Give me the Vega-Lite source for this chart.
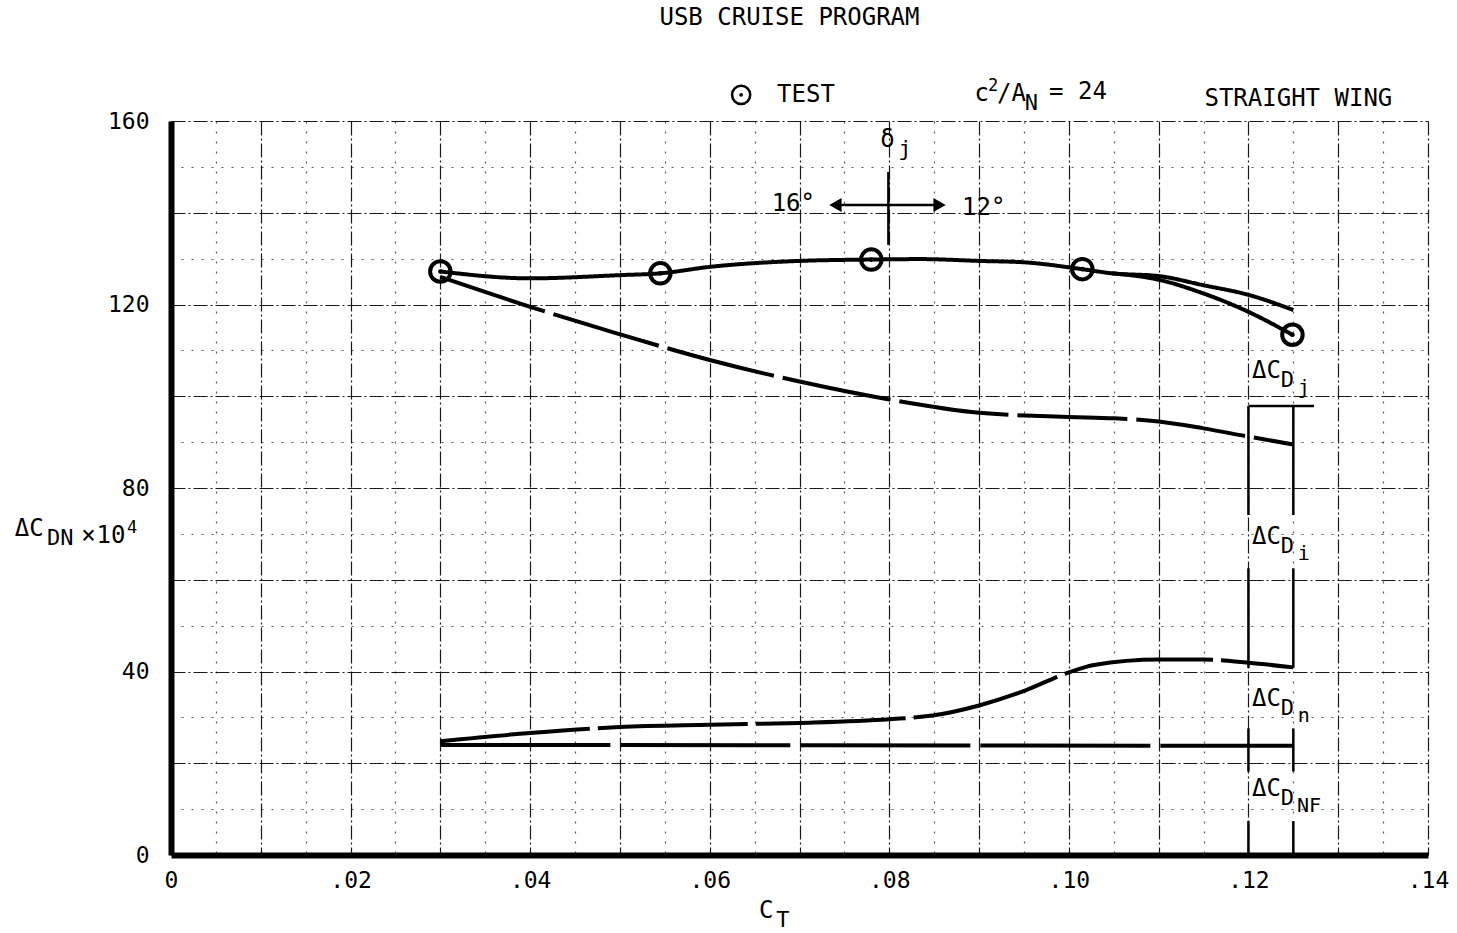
{
  "$schema": "https://vega.github.io/schema/vega-lite/v6.json",
  "width": 1257,
  "height": 734,
  "autosize": {"type": "none"},
  "padding": {"left": 171, "top": 121, "right": 29, "bottom": 78},
  "background": "white",
  "config": {"view": {"stroke": null}},
  "datasets": {
    "curves": [
      {"series": "total_a", "x": 0.030, "y": 127.2},
      {"series": "total_a", "x": 0.040, "y": 125.7},
      {"series": "total_a", "x": 0.050, "y": 126.4},
      {"series": "total_a", "x": 0.0545, "y": 126.8},
      {"series": "total_a", "x": 0.060, "y": 128.2},
      {"series": "total_a", "x": 0.070, "y": 129.5},
      {"series": "total_a", "x": 0.078, "y": 129.8},
      {"series": "total_a", "x": 0.0835, "y": 129.9},
      {"series": "total_a", "x": 0.090, "y": 129.5},
      {"series": "total_a", "x": 0.095, "y": 129.2},
      {"series": "total_a", "x": 0.1015, "y": 127.7},
      {"series": "total_a", "x": 0.1048, "y": 126.8},
      {"series": "total_a", "x": 0.110, "y": 126.2},
      {"series": "total_a", "x": 0.115, "y": 124.2},
      {"series": "total_a", "x": 0.120, "y": 122.1},
      {"series": "total_a", "x": 0.125, "y": 118.8},
      {"series": "total_b", "x": 0.1048, "y": 126.8},
      {"series": "total_b", "x": 0.110, "y": 125.4},
      {"series": "total_b", "x": 0.115, "y": 122.4},
      {"series": "total_b", "x": 0.120, "y": 118.4},
      {"series": "total_b", "x": 0.1249, "y": 113.4},
      {"series": "di", "x": 0.030, "y": 126.0},
      {"series": "di", "x": 0.040, "y": 119.5},
      {"series": "di", "x": 0.050, "y": 113.5},
      {"series": "di", "x": 0.060, "y": 107.9},
      {"series": "di", "x": 0.070, "y": 103.2},
      {"series": "di", "x": 0.080, "y": 99.3},
      {"series": "di", "x": 0.090, "y": 96.4},
      {"series": "di", "x": 0.100, "y": 95.5},
      {"series": "di", "x": 0.105, "y": 95.2},
      {"series": "di", "x": 0.110, "y": 94.5},
      {"series": "di", "x": 0.115, "y": 93.0},
      {"series": "di", "x": 0.120, "y": 91.2},
      {"series": "di", "x": 0.125, "y": 89.5},
      {"series": "dn", "x": 0.030, "y": 24.8},
      {"series": "dn", "x": 0.040, "y": 26.6},
      {"series": "dn", "x": 0.050, "y": 27.9},
      {"series": "dn", "x": 0.060, "y": 28.4},
      {"series": "dn", "x": 0.070, "y": 28.8},
      {"series": "dn", "x": 0.080, "y": 29.6},
      {"series": "dn", "x": 0.0848, "y": 30.4},
      {"series": "dn", "x": 0.090, "y": 32.6},
      {"series": "dn", "x": 0.0948, "y": 35.6},
      {"series": "dn", "x": 0.100, "y": 39.8},
      {"series": "dn", "x": 0.1028, "y": 41.4},
      {"series": "dn", "x": 0.110, "y": 42.6},
      {"series": "dn", "x": 0.115, "y": 42.6},
      {"series": "dn", "x": 0.120, "y": 41.9},
      {"series": "dn", "x": 0.125, "y": 40.9},
      {"series": "nf", "x": 0.030, "y": 24.0},
      {"series": "nf", "x": 0.125, "y": 23.8}
    ],
    "test": [
      {"x": 0.0300, "y": 127.2},
      {"x": 0.0545, "y": 126.8},
      {"x": 0.0780, "y": 129.8},
      {"x": 0.1015, "y": 127.7},
      {"x": 0.1249, "y": 113.4}
    ],
    "legendsym": [
      {"x": 0.0635, "y": 165.7}
    ],
    "segs": [
      {"x": 0.0799, "y": 133.0, "x2": 0.0799, "y2": 148.9},
      {"x": 0.0740, "y": 141.7, "x2": 0.0855, "y2": 141.7},
      {"x": 0.1200, "y": 97.9, "x2": 0.1273, "y2": 97.9},
      {"x": 0.1200, "y": 97.9, "x2": 0.1200, "y2": 74.1},
      {"x": 0.1250, "y": 97.9, "x2": 0.1250, "y2": 74.1},
      {"x": 0.1200, "y": 62.5, "x2": 0.1200, "y2": 40.8},
      {"x": 0.1250, "y": 62.5, "x2": 0.1250, "y2": 40.8},
      {"x": 0.1200, "y": 27.6, "x2": 0.1200, "y2": 18.2},
      {"x": 0.1250, "y": 27.6, "x2": 0.1250, "y2": 18.2},
      {"x": 0.1200, "y": 7.4, "x2": 0.1200, "y2": 0},
      {"x": 0.1250, "y": 7.4, "x2": 0.1250, "y2": 0}
    ],
    "lab_base": [
      {"t": "USB CRUISE PROGRAM", "x": 0.0544, "y": 182.4},
      {"t": "TEST", "x": 0.0675, "y": 165.7},
      {"t": "c", "x": 0.0895, "y": 165.9},
      {"t": "/A", "x": 0.0920, "y": 165.9},
      {"t": "=  24", "x": 0.0978, "y": 166.3},
      {"t": "STRAIGHT WING", "x": 0.1151, "y": 164.8},
      {"t": "δ", "x": 0.0790, "y": 155.9},
      {"t": "16°", "x": 0.0669, "y": 141.9},
      {"t": "12°", "x": 0.0881, "y": 141.0},
      {"t": "ΔC", "x": 0.1204, "y": 105.4},
      {"t": "ΔC", "x": 0.1204, "y": 69.4},
      {"t": "ΔC", "x": 0.1204, "y": 34.0},
      {"t": "ΔC", "x": 0.1204, "y": 14.4},
      {"t": "ΔC", "x": -0.0174, "y": 71.1},
      {"t": "×", "x": -0.0100, "y": 69.5},
      {"t": "10", "x": -0.0083, "y": 69.5},
      {"t": "C", "x": 0.0655, "y": -12.3}
    ],
    "lab_sub": [
      {"t": "N", "x": 0.0951, "y": 165.9},
      {"t": "j", "x": 0.0810, "y": 155.9},
      {"t": "D", "x": 0.1236, "y": 105.4},
      {"t": "D", "x": 0.1236, "y": 69.4},
      {"t": "D", "x": 0.1236, "y": 34.0},
      {"t": "D", "x": 0.1236, "y": 14.4},
      {"t": "DN", "x": -0.0138, "y": 71.1},
      {"t": "T", "x": 0.0674, "y": -12.3}
    ],
    "lab_subsub": [
      {"t": "j", "x": 0.1255, "y": 105.4},
      {"t": "i", "x": 0.1255, "y": 69.4},
      {"t": "n", "x": 0.1255, "y": 34.0},
      {"t": "NF", "x": 0.1254, "y": 14.4}
    ],
    "lab_super": [
      {"t": "2", "x": 0.0910, "y": 165.9},
      {"t": "4", "x": -0.0049, "y": 69.5}
    ]
  },
  "encoding": {
    "x": {
      "field": "x",
      "type": "quantitative",
      "scale": {"domain": [0, 0.14], "nice": false, "zero": false},
      "axis": {
        "values": [0, 0.005, 0.01, 0.015, 0.02, 0.025, 0.03, 0.035, 0.04, 0.045, 0.05, 0.055, 0.06, 0.065, 0.07, 0.075, 0.08, 0.085, 0.09, 0.095, 0.1, 0.105, 0.11, 0.115, 0.12, 0.125, 0.13, 0.135, 0.14],
        "title": null,
        "domainColor": "black",
        "domainWidth": 6,
        "ticks": false,
        "labelExpr": "round(datum.value*1000) % 20 == 0 ? (datum.value == 0 ? '0' : replace(format(datum.value, '.2f'), '0.', '.')) : ''",
        "labelFont": "DejaVu Sans Mono",
        "labelFontSize": 23,
        "labelColor": "black",
        "labelPadding": 14,
        "labelOverlap": false,
        "labelFlush": false,
        "grid": true,
        "gridColor": "black",
        "gridWidth": 1.2,
        "gridDash": {"condition": {"test": "round(datum.value*1000) % 10 == 0", "value": [14, 3, 2, 3]}, "value": [2, 8]},
        "gridOpacity": {"condition": {"test": "round(datum.value*1000) % 10 == 0", "value": 0.9}, "value": 0.65}
      }
    },
    "y": {
      "field": "y",
      "type": "quantitative",
      "scale": {"domain": [0, 160], "nice": false, "zero": false},
      "axis": {
        "values": [0, 10, 20, 30, 40, 50, 60, 70, 80, 90, 100, 110, 120, 130, 140, 150, 160],
        "title": null,
        "domainColor": "black",
        "domainWidth": 6,
        "ticks": false,
        "labelExpr": "datum.value % 40 == 0 ? datum.label : ''",
        "labelFont": "DejaVu Sans Mono",
        "labelFontSize": 23,
        "labelColor": "black",
        "labelPadding": 22,
        "labelOverlap": false,
        "labelFlush": false,
        "grid": true,
        "gridColor": "black",
        "gridWidth": 1.2,
        "gridDash": {"condition": {"test": "datum.value % 20 == 0", "value": [14, 3, 2, 3]}, "value": [2, 8]},
        "gridOpacity": {"condition": {"test": "datum.value % 20 == 0", "value": 0.9}, "value": 0.65}
      }
    }
  },
  "layer": [
    {
      "data": {"name": "curves"},
      "mark": {"type": "line", "interpolate": "monotone", "strokeWidth": 4, "color": "black"},
      "encoding": {
        "detail": {"field": "series", "type": "nominal"},
        "strokeDash": {
          "field": "series",
          "type": "nominal",
          "scale": {"domain": ["total_a", "total_b", "di", "dn", "nf"], "range": [[1, 0], [1, 0], [110, 9], [150, 8], [170, 10]]},
          "legend": null
        },
        "order": {"field": "x", "type": "quantitative"}
      }
    },
    {
      "data": {"name": "segs"},
      "mark": {"type": "rule", "strokeWidth": 2.5, "color": "black"},
      "encoding": {
        "x2": {"field": "x2"},
        "y2": {"field": "y2"}
      }
    },
    {
      "data": {"values": [{"x": 0.0740, "y": 141.7}]},
      "mark": {"type": "point", "shape": "triangle-left", "filled": true, "color": "black", "size": 200, "opacity": 1},
      "encoding": {}
    },
    {
      "data": {"values": [{"x": 0.0856, "y": 141.7}]},
      "mark": {"type": "point", "shape": "triangle-right", "filled": true, "color": "black", "size": 200, "opacity": 1},
      "encoding": {}
    },
    {
      "data": {"name": "test"},
      "mark": {"type": "point", "shape": "circle", "filled": false, "stroke": "black", "strokeWidth": 4, "size": 420, "opacity": 1},
      "encoding": {}
    },
    {
      "data": {"name": "test"},
      "mark": {"type": "point", "shape": "circle", "filled": true, "color": "black", "size": 22, "opacity": 1},
      "encoding": {}
    },
    {
      "data": {"name": "legendsym"},
      "mark": {"type": "point", "shape": "circle", "filled": false, "stroke": "black", "strokeWidth": 2.5, "size": 330, "opacity": 1},
      "encoding": {}
    },
    {
      "data": {"name": "legendsym"},
      "mark": {"type": "point", "shape": "circle", "filled": true, "color": "black", "size": 14, "opacity": 1},
      "encoding": {}
    },
    {
      "data": {"name": "lab_base"},
      "mark": {"type": "text", "align": "left", "baseline": "middle", "font": "DejaVu Sans Mono", "fontSize": 24, "color": "black"},
      "encoding": {"text": {"field": "t", "type": "nominal"}}
    },
    {
      "data": {"name": "lab_sub"},
      "mark": {"type": "text", "align": "left", "baseline": "middle", "dy": 9, "font": "DejaVu Sans Mono", "fontSize": 22, "color": "black"},
      "encoding": {"text": {"field": "t", "type": "nominal"}}
    },
    {
      "data": {"name": "lab_subsub"},
      "mark": {"type": "text", "align": "left", "baseline": "middle", "dy": 17, "font": "DejaVu Sans Mono", "fontSize": 20, "color": "black"},
      "encoding": {"text": {"field": "t", "type": "nominal"}}
    },
    {
      "data": {"name": "lab_super"},
      "mark": {"type": "text", "align": "left", "baseline": "middle", "dy": -8, "font": "DejaVu Sans Mono", "fontSize": 17, "color": "black"},
      "encoding": {"text": {"field": "t", "type": "nominal"}}
    }
  ]
}
